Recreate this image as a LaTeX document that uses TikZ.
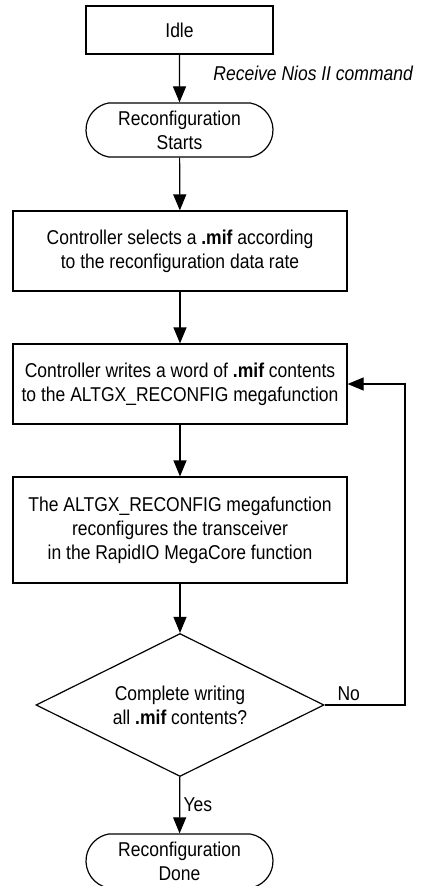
\documentclass[tikz,border=0pt]{standalone}
\usepackage{fontspec}
\setmainfont{Liberation Sans}[FakeStretch=0.875]
\usetikzlibrary{arrows.meta,shapes.geometric,shapes.misc}

\begin{document}
\begin{tikzpicture}[x=1pt,y=1pt,>={Triangle[length=16pt,width=13pt]},line width=1.2pt,
    font=\fontsize{20}{24}\selectfont,
    box node/.style={rectangle,draw,align=center,inner sep=0pt,minimum width=334pt,minimum height=80pt},
    end node/.style={rounded rectangle,rounded rectangle arc length=160,draw,align=center,inner sep=0pt,minimum width=187pt,minimum height=54pt},
    test node/.style={diamond,draw,align=center,aspect=2,inner sep=0pt,minimum width=288pt,minimum height=143pt}]
    \useasboundingbox (0,0) rectangle (425,-886);
    \node[box node,minimum width=187pt,minimum height=48pt] (idle) at (179.5,-30) {Idle};
    \node[end node] (start) at (179.5,-130) {Reconfiguration\\Starts};
    \node[box node] (select) at (180,-251) {Controller selects a \textbf{.mif} according\\to the reconfiguration data rate};
    \node[box node] (write) at (180,-384) {Controller writes a word of \textbf{.mif} contents\\to the ALTGX\_RECONFIG megafunction};
    \node[box node,minimum height=106pt] (config) at (180,-530) {The ALTGX\_RECONFIG megafunction\\reconfigures the transceiver\\in the RapidIO MegaCore function};
    \node[test node] (check) at (180,-705) {Complete writing\\all \textbf{.mif} contents?};
    \node[end node] (done) at (179.5,-861) {Reconfiguration\\Done};
    \coordinate (loop) at (405,-705);
    \path[->]
    (idle) edge node [right,xshift=30pt,pos=0.4,font=\fontsize{20}{24}\selectfont\itshape] {Receive Nios II command} (start)
    (start) edge (select)
    (select) edge (write)
    (write) edge (config)
    (config) edge (check)
    (check) edge node [right] {Yes} (done);
    \draw[->] (check.east) -- node [above,pos=0.3] {No} (loop) |- (write.east);
\end{tikzpicture}
\end{document}
